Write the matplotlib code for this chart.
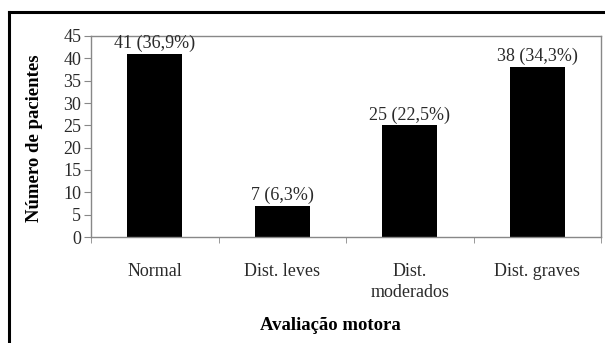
import matplotlib
matplotlib.use('Agg')
import matplotlib.pyplot as plt
from matplotlib.lines import Line2D
import numpy as np

categorias = ['Normal', 'Dist. leves', 'Dist.\nmoderados', 'Dist. graves']
pacientes = [41, 7, 25, 38]
percentuais = ['36,9%', '6,3%', '22,5%', '34,3%']

plt.rcParams['font.family'] = ['Liberation Serif', 'DejaVu Serif']

fig = plt.figure(figsize=(6.05, 3.43), dpi=100)
ax = fig.add_axes([91/605, 1 - 237/343, 510/605, 201/343])

index = np.arange(len(categorias))
ax.bar(index, pacientes, width=0.43, color='black')

for i, v in enumerate(pacientes):
    ax.text(i, v + 0.4, '%d (%s)' % (v, percentuais[i]), ha='center', va='bottom',
            fontsize=13, color='#2a2a2a')

ax.set_xlim(-0.5, len(categorias) - 0.5)
ax.set_ylim(0, 45)
ax.set_yticks(range(0, 46, 5))
ax.set_xticks(index)
ax.set_xticklabels(categorias, fontsize=13, color='#2a2a2a', linespacing=1.3)
ax.set_xticks(np.arange(-0.5, len(categorias), 1), minor=True)
ax.tick_params(axis='x', which='major', length=0, pad=19)
ax.tick_params(axis='x', which='minor', length=4, direction='out', color='#888888')
ax.tick_params(axis='y', length=5, direction='out', color='#888888', labelsize=13,
               labelcolor='#2a2a2a', pad=2)

for s in ax.spines.values():
    s.set_color('#888888')
    s.set_linewidth(1)

fig.text(35/605, 1 - 138/343, 'Número de pacientes', rotation=90, ha='center',
         va='center', fontsize=13.5, fontweight='bold')
fig.text(330/605, 1 - 325/343, 'Avaliação motora', ha='center', va='center',
         fontsize=13.5, fontweight='bold')

# moldura externa
fig.add_artist(Line2D([9/605, 9/605], [0, 1 - 12/343], color='black', lw=2.2))
fig.add_artist(Line2D([9/605, 1], [1 - 12/343, 1 - 12/343], color='black', lw=2.2))

fig.savefig('out.png', dpi=100)
